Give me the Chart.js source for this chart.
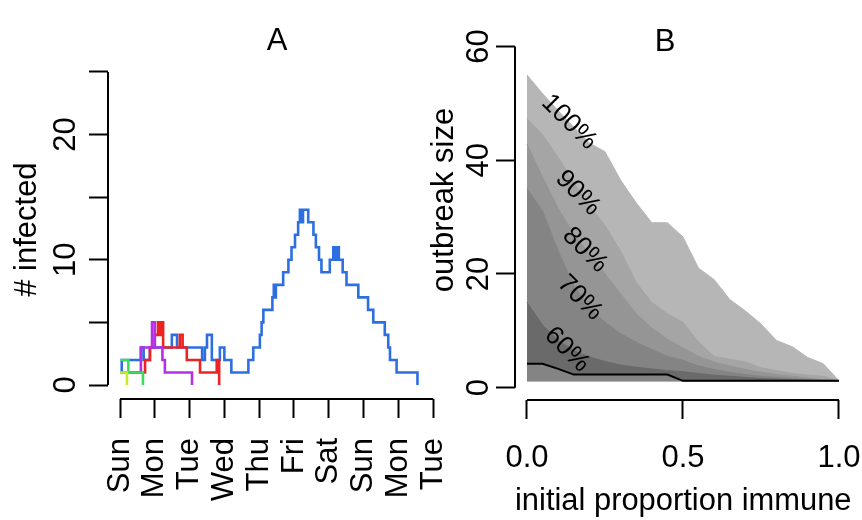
<!DOCTYPE html>
<html>
<head>
<meta charset="utf-8">
<script src="https://cdn.jsdelivr.net/npm/chart.js@4.4.1/dist/chart.umd.min.js"></script>
<style>
  html, body { margin: 0; padding: 0; background: #ffffff; overflow: hidden; }
  #wrap { position: relative; width: 862px; height: 520px; }
  canvas { position: absolute; top: 0; }
  #cA { left: 0; }
  #cB { left: 420px; }
</style>
</head>
<body>
<div id="wrap">
  <canvas id="cA" width="470" height="520"></canvas>
  <canvas id="cB" width="442" height="520"></canvas>
</div>
<script>
// ---------- Panel A data ----------
const dayTicks = [0, 1, 2, 3, 4, 5, 6, 7, 8, 9];
const dayLabels = ['Sun', 'Mon', 'Tue', 'Wed', 'Thu', 'Fri', 'Sat', 'Sun', 'Mon', 'Tue'];
const infTicks = [0, 5, 10, 15, 20, 25];
const infTickLabels = ['0', '', '10', '', '20', ''];

const blueDay = [0, 0.05, 0.6, 0.68, 0.86, 1.49, 1.64, 2.36, 2.44, 2.5, 2.64, 2.87, 3.0, 3.2, 3.69, 3.83, 4.02, 4.07, 4.12, 4.38, 4.42, 4.45, 4.48, 4.69, 4.84, 4.93, 5.03, 5.12, 5.17, 5.23, 5.26, 5.41, 5.56, 5.63, 5.72, 5.79, 6.03, 6.13, 6.17, 6.24, 6.29, 6.4, 6.51, 6.85, 7.13, 7.28, 7.61, 7.71, 7.76, 7.95, 8.55];
const blueN   = [1, 2, 3, 2, 3, 4, 3, 2, 3, 4, 2, 3, 2, 1, 2, 3, 4, 5, 6, 7, 8, 7, 8, 9, 10, 11, 12, 13, 14, 13, 14, 13, 12, 11, 10, 9, 10, 11, 10, 11, 10, 9, 8, 7, 6, 5, 4, 3, 2, 1, 0];
const redDay = [0.3, 0.72, 0.86, 1.0, 1.09, 1.14, 1.19, 1.24, 1.72, 1.8, 1.92, 2.3, 2.78, 2.85];
const redN   = [1, 2, 3, 4, 5, 4, 5, 3, 4, 3, 2, 1, 2, 0];
const purpleDay = [0.05, 0.6, 0.92, 1.0, 1.22, 1.29, 2.07];
const purpleN   = [1, 3, 5, 3, 2, 1, 0];
const greenDay = [0.02, 0.24, 0.66];
const greenN   = [2, 1, 0];
const yellowDay = [0.0, 0.2];
const yellowN   = [1, 0];

// ---------- Panel B data ----------
const immune = [0, 0.05, 0.1, 0.15, 0.2, 0.25, 0.3, 0.35, 0.4, 0.45, 0.5, 0.55, 0.6, 0.65, 0.7, 0.75, 0.8, 0.85, 0.9, 0.95, 1];
const q100 = [55, 51.7, 48.7, 45.8, 43, 41.5, 36.5, 32.5, 29, 29, 26.5, 21, 19, 15.5, 13.5, 11.2, 8.3, 7.2, 5.3, 4.2, 1.2];
const q90  = [47.3, 44.5, 40.5, 36, 32, 28.5, 24, 18.5, 15, 13, 11.5, 8, 5.5, 5, 4.5, 3.5, 3, 2.5, 2.2, 2, 1.2];
const q80  = [42.8, 37, 31.5, 27, 23.5, 20, 16.5, 13, 10.5, 8.5, 7, 5.5, 4.5, 3.8, 3.2, 2.7, 2.3, 2, 1.7, 1.4, 1.2];
const q70  = [35, 31, 24, 18, 14, 11.5, 9.5, 8, 6.7, 5.5, 4.8, 3.8, 3.2, 2.7, 2.3, 2, 1.8, 1.6, 1.4, 1.3, 1.2];
const q60  = [15, 11, 8.3, 6.5, 5.4, 4.6, 4, 3.6, 3.3, 3, 2.8, 2.5, 2.2, 2, 1.8, 1.6, 1.5, 1.4, 1.3, 1.2, 1.2];
const medianSize = [4.2, 4.2, 3.3, 2.3, 2.3, 2.3, 2.3, 2.3, 2.3, 2.3, 1.2, 1.2, 1.2, 1.2, 1.2, 1.2, 1.2, 1.2, 1.2, 1.2, 1.2];
const minSize = [1.15, 1.15, 1.15, 1.15, 1.15, 1.15, 1.15, 1.15, 1.15, 1.15, 1.15, 1.15, 1.15, 1.15, 1.15, 1.15, 1.15, 1.15, 1.15, 1.15, 1.15];
const sizeTicks = [0, 20, 40, 60];
const sizeTickLabels = ['0', '20', '40', '60'];
const immuneTicks = [0, 0.5, 1];
const immuneTickLabels = ['0.0', '0.5', '1.0'];
const contourText = ['100%', '90%', '80%', '70%', '60%'];
const contourP = [0.135, 0.163, 0.186, 0.17, 0.128];
const contourV = [46.7, 34.2, 24.2, 15.8, 6.7];

// ---------- helpers ----------
const FONT = '"Liberation Sans", Arial, Helvetica, sans-serif';
Chart.defaults.font.family = FONT;
Chart.defaults.color = '#000';

function pts(xs, ys) { return xs.map((x, i) => ({ x: x, y: ys[i] })); }

function makeRStyle(cfg) {
  return {
    id: 'rStyle',
    afterDraw(chart) {
      const ctx = chart.ctx, xs = chart.scales.x, ys = chart.scales.y, ca = chart.chartArea;
      ctx.save();
      ctx.strokeStyle = '#000';
      ctx.lineWidth = 2;
      ctx.beginPath();
      ctx.moveTo(xs.getPixelForValue(cfg.xTicks[0]), ca.bottom);
      ctx.lineTo(xs.getPixelForValue(cfg.xTicks[cfg.xTicks.length - 1]), ca.bottom);
      ctx.moveTo(ca.left, ys.getPixelForValue(cfg.yTicks[0]));
      ctx.lineTo(ca.left, ys.getPixelForValue(cfg.yTicks[cfg.yTicks.length - 1]));
      ctx.stroke();
      ctx.fillStyle = '#000';
      ctx.textAlign = 'center';
      ctx.textBaseline = 'middle';
      ctx.font = '31px ' + FONT;
      cfg.yTicks.forEach((v, i) => {
        const t = cfg.yLabels[i];
        if (!t) return;
        ctx.save();
        ctx.translate(cfg.yLabelX, ys.getPixelForValue(v));
        ctx.rotate(-Math.PI / 2);
        ctx.fillText(t, 0, 0);
        ctx.restore();
      });
      if (cfg.title) {
        ctx.fillText(cfg.title.text, cfg.title.x, cfg.title.y);
      }
      if (cfg.notes) {
        ctx.font = '26px ' + FONT;
        cfg.notes.text.forEach((t, i) => {
          ctx.save();
          ctx.translate(xs.getPixelForValue(cfg.notes.x[i]), ys.getPixelForValue(cfg.notes.y[i]));
          ctx.rotate(Math.PI / 4);
          ctx.fillText(t, 0, 0);
          ctx.restore();
        });
      }
      ctx.restore();
    }
  };
}

const tickGrid = { display: true, drawOnChartArea: false, drawTicks: true, tickLength: 19, tickColor: '#000', tickWidth: 2 };

function stepLine(xs, ys, color) {
  return { data: pts(xs, ys), borderColor: color, borderWidth: 2.6, pointRadius: 0, stepped: true, fill: false };
}

// ---------- Panel A ----------
new Chart(document.getElementById('cA'), {
  type: 'line',
  data: {
    datasets: [
      stepLine(yellowDay, yellowN, '#c8ea2c'),
      stepLine(greenDay, greenN, '#3ddc5a'),
      stepLine(purpleDay, purpleN, '#b330e6'),
      stepLine(redDay, redN, '#ec2323'),
      stepLine(blueDay, blueN, '#2d6fe0')
    ]
  },
  options: {
    responsive: false, animation: false, devicePixelRatio: 1,
    layout: { padding: { left: 0, right: 24, top: 0, bottom: 0 } },
    plugins: {
      legend: { display: false }, tooltip: { enabled: false },
      title: { display: true, text: 'A', fullSize: false, color: '#000',
               font: { size: 31, weight: 'normal', lineHeight: 1.2 }, padding: { top: 23, bottom: 0 } }
    },
    scales: {
      x: {
        type: 'linear', min: -0.345, max: 9.37, position: 'bottom',
        afterBuildTicks: s => { s.ticks = dayTicks.map(v => ({ value: v })); },
        afterFit: s => { s.height = 121; s.paddingLeft = 0; s.paddingRight = 0; },
        ticks: { autoSkip: false, minRotation: 90, maxRotation: 90, padding: 20, color: '#000',
                 font: { size: 31 }, callback: (v, i) => dayLabels[i] },
        grid: tickGrid, border: { display: false }
      },
      y: {
        type: 'linear', min: -1.118, max: 25.94,
        afterBuildTicks: s => { s.ticks = infTicks.map(v => ({ value: v })); },
        afterFit: s => { s.width = 108; s.paddingTop = 0; s.paddingBottom = 0; },
        ticks: { display: false },
        grid: tickGrid, border: { display: false },
        title: { display: true, text: '# infected', color: '#000', font: { size: 31, lineHeight: 1.2 },
                 padding: { top: 9, bottom: 0 } }
      }
    }
  },
  plugins: [makeRStyle({ xTicks: dayTicks, yTicks: infTicks, yLabels: infTickLabels, yLabelX: 66 })]
});

// ---------- Panel B ----------
function band(ys, color, target) {
  return { data: pts(immune, ys), borderColor: color, backgroundColor: color, borderWidth: 1,
           pointRadius: 0, fill: target, tension: 0 };
}

new Chart(document.getElementById('cB'), {
  type: 'line',
  data: {
    datasets: [
      { data: pts(immune, medianSize), borderColor: '#000', borderWidth: 2, pointRadius: 0, fill: false, tension: 0 },
      band(q60, '#6a6a6a', '-1'),
      band(q70, '#848484', 6),
      band(q80, '#959595', 6),
      band(q90, '#a5a5a5', 6),
      band(q100, '#b6b6b6', 6),
      { data: pts(immune, minSize), borderColor: 'rgba(0,0,0,0)', borderWidth: 1, pointRadius: 0, fill: false }
    ]
  },
  options: {
    responsive: false, animation: false, devicePixelRatio: 1,
    layout: { padding: { left: 0, right: 10.5, top: -22, bottom: 0 } },
    plugins: { legend: { display: false }, tooltip: { enabled: false } },
    scales: {
      x: {
        type: 'linear', min: -0.03846, max: 1.0401, position: 'bottom',
        afterBuildTicks: s => { s.ticks = immuneTicks.map(v => ({ value: v })); },
        afterFit: s => { s.height = 120; s.paddingLeft = 0; s.paddingRight = 0; },
        ticks: { autoSkip: false, minRotation: 0, maxRotation: 0, padding: 21, color: '#000',
                 font: { size: 31 }, callback: (v, i) => immuneTickLabels[i] },
        grid: tickGrid, border: { display: false },
        title: { display: true, text: 'initial proportion immune', color: '#000',
                 font: { size: 31, lineHeight: 1.2 }, padding: { top: 0, bottom: 0 } }
      },
      y: {
        type: 'linear', min: -2.1667, max: 68.17,
        afterBuildTicks: s => { s.ticks = sizeTicks.map(v => ({ value: v })); },
        afterFit: s => { s.width = 95; s.paddingTop = 0; s.paddingBottom = 0; },
        ticks: { display: false },
        grid: tickGrid, border: { display: false },
        title: { display: true, text: 'outbreak size', color: '#000', font: { size: 31, lineHeight: 1.2 },
                 padding: { top: 6, bottom: 0 } }
      }
    }
  },
  plugins: [makeRStyle({ xTicks: immuneTicks, yTicks: sizeTicks, yLabels: sizeTickLabels, yLabelX: 59.5,
                         title: { text: 'B', x: 245, y: 42 },
                         notes: { text: contourText, x: contourP, y: contourV } })]
});
</script>
</body>
</html>
